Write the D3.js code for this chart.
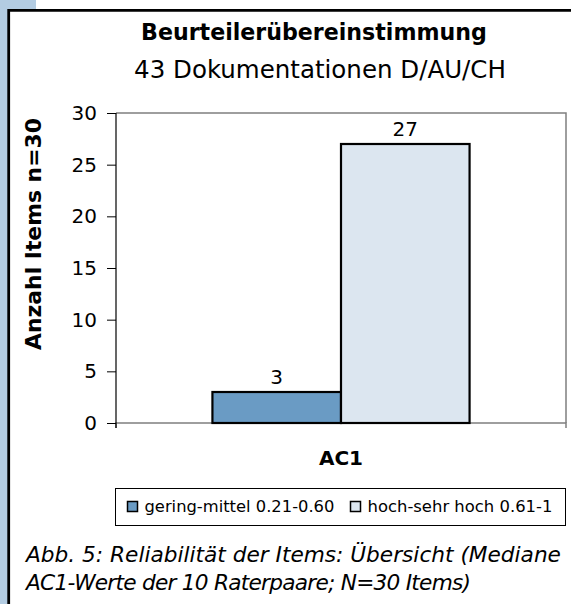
<!DOCTYPE html>
<html>
<head>
<meta charset="utf-8">
<script src="https://cdn.jsdelivr.net/npm/d3@7"></script>
<style>
body { margin: 0; background: #fff; }
svg { display: block; font-family: "DejaVu Sans", sans-serif; }
</style>
</head>
<body>
<div id="chart"></div>
<script>
var w = 571, h = 604;

// data
var categories = ["AC1"];
var seriesNames = ["gering-mittel 0.21-0.60", "hoch-sehr hoch 0.61-1"];
var seriesValues = [3, 27];
var seriesColors = ["#6a9bc4", "#dce6f0"];
var yTicks = [0, 5, 10, 15, 20, 25, 30];

var svg = d3.select("#chart").append("svg")
    .attr("width", w)
    .attr("height", h);

// scale a text's font so its width matches the one measured in the picture
function fit(sel, width) {
    var fs = +sel.attr("font-size");
    var len = sel.node().getComputedTextLength();
    sel.attr("font-size", (fs * width / len).toFixed(2));
    return fs * width / len;
}

// blue page strip + black frame
svg.append("rect").attr("x", 0).attr("y", 0).attr("width", 36).attr("height", 11).attr("fill", "#b3cce2");
svg.append("rect").attr("x", 0).attr("y", 0).attr("width", 8).attr("height", h).attr("fill", "#b3cce2");
svg.append("path")
    .attr("d", "M8.7," + h + "V10.3H" + w)
    .attr("fill", "none").attr("stroke", "#000").attr("stroke-width", 2.8);

// titles
var t1 = svg.append("text").attr("x", 314).attr("y", 40)
    .attr("text-anchor", "middle").attr("font-size", 21).attr("font-weight", "bold")
    .text("Beurteilerübereinstimmung");
fit(t1, 346);
var t2 = svg.append("text").attr("x", 320).attr("y", 78)
    .attr("text-anchor", "middle").attr("font-size", 22)
    .text("43 Dokumentationen D/AU/CH");
fit(t2, 372);

var pLeft = 116, pRight = 566, pTop = 113, pBottom = 423;

var x0 = d3.scaleBand().domain(categories).range([pLeft, pRight]);
var x1 = d3.scaleBand().domain(d3.range(seriesValues.length)).range([0, x0.bandwidth()])
    .paddingOuter(0.75).paddingInner(0);
var y = d3.scaleLinear().domain([0, 30]).range([pBottom, pTop]);

// plot border (top and right)
svg.append("path")
    .attr("d", "M" + pLeft + "," + pTop + "H" + pRight + "V" + pBottom)
    .attr("fill", "none").attr("stroke", "#7f7f7f").attr("stroke-width", 1.5);

// x axis
var xAxis = svg.append("g")
    .attr("transform", "translate(0," + pBottom + ")")
    .call(d3.axisBottom(x0).tickSize(0).tickFormat(""));
xAxis.select(".domain").attr("d", "M" + pLeft + ",5V0H" + pRight + "V5")
    .attr("stroke", "#7f7f7f").attr("stroke-width", 1.5);

// bars
svg.selectAll("rect.bar")
    .data(seriesValues)
    .enter().append("rect")
    .attr("class", "bar")
    .attr("x", function(d, i) { return x0("AC1") + x1(i); })
    .attr("y", function(d) { return y(d); })
    .attr("width", x1.bandwidth())
    .attr("height", function(d) { return y(0) - y(d); })
    .attr("fill", function(d, i) { return seriesColors[i]; })
    .attr("stroke", "#000").attr("stroke-width", 2.2);

// value labels
svg.selectAll("text.val")
    .data(seriesValues)
    .enter().append("text")
    .attr("class", "val")
    .attr("x", function(d, i) { return x0("AC1") + x1(i) + x1.bandwidth() / 2; })
    .attr("y", function(d) { return y(d) - 8; })
    .attr("text-anchor", "middle").attr("font-size", 20)
    .text(function(d) { return d; });

// y axis
var yAxis = svg.append("g")
    .attr("transform", "translate(" + pLeft + ",0)")
    .call(d3.axisLeft(y).tickValues(yTicks).tickSize(9).tickPadding(10));
yAxis.select(".domain").attr("d", "M0," + pTop + "V" + (pBottom + 5))
    .attr("stroke", "#000").attr("stroke-width", 1.2);
yAxis.selectAll(".tick line").attr("stroke", "#000");
yAxis.selectAll(".tick text").attr("font-size", 20).attr("font-family", "DejaVu Sans").attr("fill", "#000");

svg.append("text").attr("x", x0("AC1") + x0.bandwidth() / 2).attr("y", 465)
    .attr("text-anchor", "middle").attr("font-size", 20).attr("font-weight", "bold")
    .text(categories[0]);

// y label
var yl = svg.append("text")
    .attr("transform", "translate(41,234) rotate(-90)")
    .attr("text-anchor", "middle").attr("font-size", 21).attr("font-weight", "bold")
    .text("Anzahl Items n=30");
fit(yl, 232);

// legend
var lg = svg.append("g").attr("transform", "translate(115.5,488.5)");
lg.append("rect").attr("width", 450).attr("height", 37)
    .attr("fill", "#fff").attr("stroke", "#000").attr("stroke-width", 1);
var lx = [12, 235];
var lw = [190, 185];
seriesNames.forEach(function(s, i) {
    lg.append("rect").attr("x", lx[i]).attr("y", 13).attr("width", 10).attr("height", 10)
        .attr("fill", seriesColors[i]).attr("stroke", "#000").attr("stroke-width", 1.5);
    var lt = lg.append("text").attr("x", lx[i] + 17).attr("y", 23.5).attr("font-size", 16)
        .text(s);
    fit(lt, lw[i]);
});

// caption
var c1 = svg.append("text").attr("x", 26).attr("y", 562)
    .attr("font-size", 23).attr("font-style", "italic")
    .text("Abb. 5: Reliabilität der Items: Übersicht (Mediane");
var cs = fit(c1, 535);
svg.append("text").attr("x", 26).attr("y", 590)
    .attr("font-size", cs.toFixed(2)).attr("font-style", "italic")
    .attr("textLength", 445).attr("lengthAdjust", "spacing")
    .text("AC1-Werte der 10 Raterpaare; N=30 Items)");
</script>
</body>
</html>
